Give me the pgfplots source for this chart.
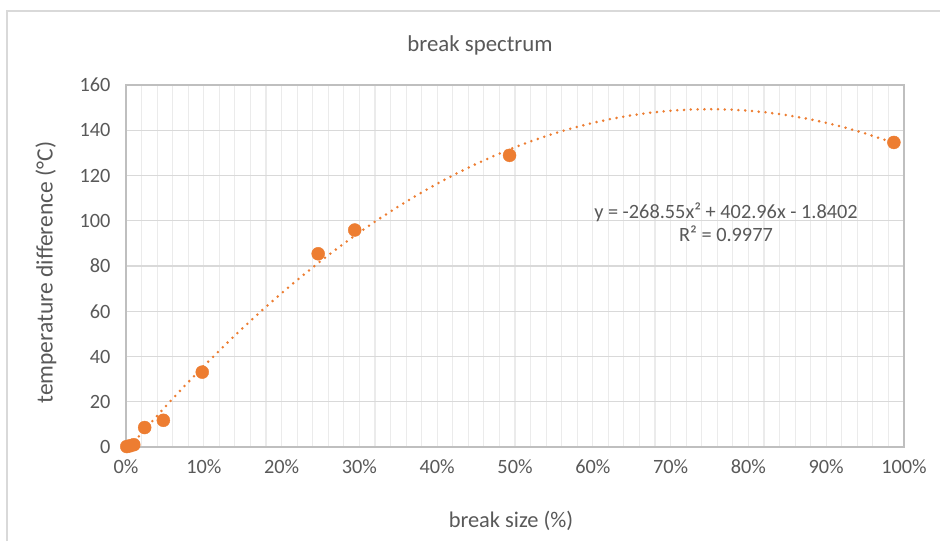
\documentclass[border=0pt]{standalone}
\usepackage{pgfplots}
\pgfplotsset{compat=1.18}
\usepackage{fontspec}
\setmainfont{Carlito}
\definecolor{txt}{HTML}{595959}
\definecolor{orng}{HTML}{ED7D31}
\definecolor{axgray}{HTML}{BFBFBF}
\definecolor{majgrid}{HTML}{D9D9D9}
\definecolor{mingrid}{HTML}{EBEBEB}
\definecolor{frame}{HTML}{D9D9D9}
\begin{document}
\begin{tikzpicture}[x=1pt,y=1pt]
\useasboundingbox (0,0) rectangle (940,541);
\fill[white] (0,0) rectangle (940,541);
\draw[frame, line width=1.3pt] (7,0) -- (7,530) -- (940,530);
\begin{axis}[
  at={(126pt,94pt)}, anchor=south west,
  scale only axis, width=778pt, height=362pt,
  xmin=0, xmax=1, ymin=0, ymax=160,
  xtick={0,0.1,0.2,0.3,0.4,0.5,0.6,0.7,0.8,0.9,1},
  xticklabels={0\%,10\%,20\%,30\%,40\%,50\%,60\%,70\%,80\%,90\%,100\%},
  minor x tick num=4,
  ytick={0,20,40,60,80,100,120,140,160},
  major tick length=0pt, minor tick length=0pt,
  xmajorgrids, xminorgrids, ymajorgrids,
  major x grid style={mingrid, line width=1.1pt},
  minor x grid style={mingrid, line width=1.1pt},
  major y grid style={majgrid, line width=1.1pt},
  axis line style={axgray, line width=1.3pt},
  axis lines*=box,
  ticklabel style={font=\fontsize{20.3}{24}\selectfont, text=txt},
  /pgf/number format/assume math mode=true,
  xticklabel style={yshift=-9pt},
  yticklabel style={xshift=-12pt},
  clip=true,
]
\addplot[orng, line width=2.8pt, line cap=round, dash pattern=on 0pt off 6.8pt, no marks] coordinates {
(0.005,0.17) (0.025,8.066) (0.05,17.636) (0.075,26.871) (0.1,35.770) (0.125,44.334)
(0.15,52.561) (0.175,60.454) (0.2,68.010) (0.225,75.231) (0.25,82.115) (0.275,88.665)
(0.3,94.878) (0.325,100.756) (0.35,106.298) (0.375,111.505) (0.4,116.376) (0.425,120.911)
(0.45,125.110) (0.475,128.974) (0.5,132.502) (0.525,135.695) (0.55,138.551) (0.575,141.073)
(0.6,143.258) (0.625,145.108) (0.65,146.622) (0.675,147.800) (0.7,148.642) (0.725,149.149)
(0.75,149.321) (0.775,149.156) (0.8,148.656) (0.825,147.820) (0.85,146.649) (0.875,145.142)
(0.9,143.298) (0.925,141.120) (0.95,138.606) (0.975,135.756) (0.987,134.267)
};
\addplot[only marks, mark=*, mark size=6.5pt, orng, mark options={fill=orng, draw=orng}] coordinates {
(0.001,0.2) (0.005,0.5) (0.01,1.0) (0.024,8.6) (0.048,11.8) (0.098,33.1)
(0.247,85.4) (0.294,95.9) (0.493,128.9) (0.987,134.6)
};
\end{axis}
\node[text=txt, font=\fontsize{22.8}{27}\selectfont] at (480,496) {break spectrum};
\node[text=txt, font=\fontsize{22.4}{27}\selectfont] at (511,20) {break size (\%)};
\node[text=txt, font=\fontsize{23.5}{28}\selectfont, rotate=90] at (46,268.5) {temperature difference (°C)};
\node[text=txt, font=\fontsize{20.3}{24}\selectfont, align=center] at (726,319) {y = -268.55x² + 402.96x - 1.8402\\[-1pt] R² = 0.9977};
\end{tikzpicture}
\end{document}
